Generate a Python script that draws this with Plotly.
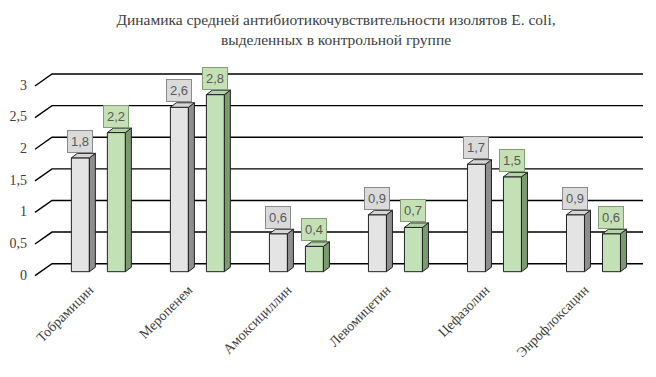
import plotly.graph_objects as go

categories = ["Тобрамицин", "Меропенем", "Амоксициллин", "Левомицетин", "Цефазолин", "Энрофлоксацин"]
series1 = [1.8, 2.6, 0.6, 0.9, 1.7, 0.9]
series2 = [2.2, 2.8, 0.4, 0.7, 1.5, 0.6]
yticks = [0, 0.5, 1, 1.5, 2, 2.5, 3]

title = "Динамика средней антибиотикочувствительности изолятов E. coli,<br>выделенных в контрольной группе"

W, H = 656, 377
xr = [-0.65, 5.5]
yr = [-0.1, 3.3]
pxy_target = 63.33
ml, mr, mt = 26, 21, 55
mb = H - mt - pxy_target * (yr[1] - yr[0])
pxx = (W - ml - mr) / (xr[1] - xr[0])
pxy = (H - mt - mb) / (yr[1] - yr[0])

bargap, groupgap = 0.273, 0.5
gw = 1 - bargap
bw = gw / 2 * (1 - groupgap)
offs = [-gw / 4, gw / 4]

# 3D depth
ddx, ddy = 6 / pxx, 4.5 / pxy
gdx = 17 / pxx
gy0, gy1 = -4 / pxy, 8 / pxy

styles = [
    dict(front="#E4E4E4", side="#8E8E8E", top="#D6D6D6", box="#DADADA", border="#8A8A8A"),
    dict(front="#C3E1B6", side="#7C9A72", top="#B4D3A6", box="#C5E0B4", border="#7F9F70"),
]

fig = go.Figure()
shapes = []
annotations = []

# back grid lines with diagonal ticks
for v in yticks:
    x0 = xr[0] + 1 / pxx
    shapes.append(dict(type="path", xref="x", yref="y",
                       path=f"M {x0},{v + gy0} L {x0 + gdx},{v + gy1} L {xr[1]},{v + gy1}",
                       line=dict(color="#000000", width=1.4), layer="below"))

for s, vals in enumerate([series1, series2]):
    st = styles[s]
    fig.add_trace(go.Bar(x=list(range(len(categories))), y=vals, offsetgroup=str(s),
                         marker=dict(color=st["front"], line=dict(color="#222222", width=1)),
                         hoverinfo="skip", showlegend=False))
    for i, v in enumerate(vals):
        c = i + offs[s]
        xl, xrr = c - bw / 2, c + bw / 2
        shapes.append(dict(type="path", xref="x", yref="y",
                           path=f"M {xrr},0 L {xrr + ddx},{ddy} L {xrr + ddx},{v + ddy} L {xrr},{v} Z",
                           fillcolor=st["side"], line=dict(color="#222222", width=1), layer="above"))
        shapes.append(dict(type="path", xref="x", yref="y",
                           path=f"M {xl},{v} L {xl + ddx},{v + ddy} L {xrr + ddx},{v + ddy} L {xrr},{v} Z",
                           fillcolor=st["top"], line=dict(color="#222222", width=1), layer="above"))
        annotations.append(dict(x=c, y=v, xref="x", yref="y", text=f"{v:.1f}".replace(".", ","),
                                showarrow=False, yanchor="bottom", yshift=5,
                                bgcolor=st["box"], bordercolor=st["border"], borderwidth=1, borderpad=3,
                                font=dict(family="Liberation Sans", size=13, color="#595959")))

fig.update_layout(
    width=W, height=H,
    margin=dict(l=ml, r=mr, t=mt, b=mb),
    paper_bgcolor="white", plot_bgcolor="white",
    barmode="group", bargap=bargap, bargroupgap=groupgap,
    separators=", ",
    title=dict(text=title, x=0.5, xanchor="center", y=0.955, yanchor="top",
               font=dict(family="Liberation Serif", size=15.5, color="#404040")),
    xaxis=dict(range=xr, tickmode="array", tickvals=list(range(len(categories))), ticktext=categories,
               tickangle=-45, showgrid=False, zeroline=False, showline=False, ticks="", automargin=False,
               ticklabelshift=-9,
               tickfont=dict(family="Liberation Serif", size=14, color="#404040")),
    yaxis=dict(range=yr, tickmode="array", tickvals=yticks, showgrid=False, zeroline=False,
               showline=False, ticks="", ticklabelstandoff=6, ticklabelshift=3, automargin=False,
               tickfont=dict(family="Liberation Serif", size=14, color="#404040")),
    shapes=shapes, annotations=annotations,
)

fig.write_html("out.html")
